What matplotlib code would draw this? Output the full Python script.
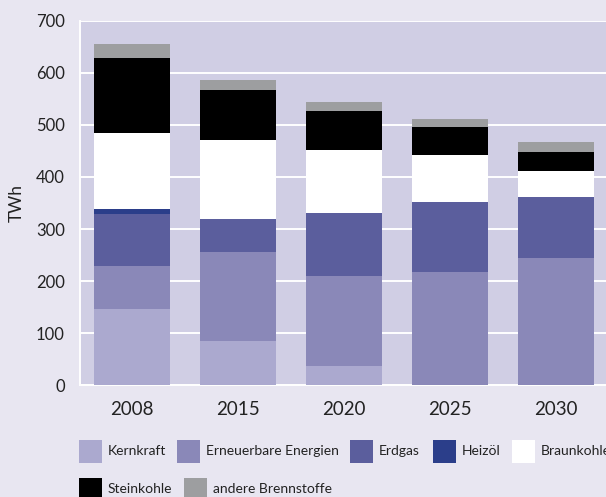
import matplotlib
matplotlib.use("Agg")
import matplotlib.pyplot as plt
from matplotlib.patches import Rectangle
import numpy as np

plt.rcParams['font.family'] = ['Lato', 'DejaVu Sans']

years = ["2008", "2015", "2020", "2025", "2030"]
sources = ["Kernkraft", "Erneuerbare Energien", "Erdgas", "Heizöl",
           "Braunkohle", "Steinkohle", "andere Brennstoffe"]

kernkraft = [146, 85, 37, 0, 0]
erneuerbare = [84, 170, 173, 217, 245]
erdgas = [98, 65, 121, 134, 117]
heizoel = [11, 0, 0, 0, 0]
braunkohle = [145, 151, 121, 92, 50]
steinkohle = [144, 95, 74, 52, 36]
andere = [27, 21, 17, 17, 19]

series = [kernkraft, erneuerbare, erdgas, heizoel, braunkohle, steinkohle, andere]
colors = ["#aba9cf", "#8a88b8", "#5b5e9d", "#2b3e8a", "#ffffff", "#000000", "#9d9ea0"]

yticks = [0, 100, 200, 300, 400, 500, 600, 700]

W, H = 606, 497
fig = plt.figure(figsize=(W / 100, H / 100), dpi=100, facecolor="#e8e6f1")
ax = fig.add_axes([80 / W, 1 - 385.3 / H, 1 - 80 / W, (385.3 - 20.7) / H])
ax.set_facecolor("#d0cee4")

x = np.arange(len(years))
bottom = np.zeros(len(years))
for vals, col in zip(series, colors):
    vals = np.array(vals, dtype=float)
    ax.bar(x, vals, width=0.717, bottom=bottom, color=col, linewidth=0, zorder=3)
    bottom += vals

ax.set_xlim(-0.49, 4.47)
ax.set_ylim(0, 700)
ax.set_yticks(yticks)
ax.set_xticks(x)
ax.set_xticklabels(years)
ax.yaxis.grid(True, color="white", linewidth=1.4, zorder=1)
ax.set_axisbelow(True)
for s in ["top", "right"]:
    ax.spines[s].set_visible(False)
for s in ["left", "bottom"]:
    ax.spines[s].set_color("white")
    ax.spines[s].set_linewidth(1.4)
ax.tick_params(axis="both", length=0, colors="#222222")
ax.tick_params(axis="y", labelsize=12, pad=11)
ax.tick_params(axis="x", labelsize=13.5, pad=11)
ax.set_ylabel("TWh", fontsize=12.5, color="#222222", labelpad=8)

# legend drawn in figure pixel coordinates
leg_rows = [[0, 1, 2, 3, 4], [5, 6]]
leg_x = [[79, 177, 350, 433, 512], [79, 184]]
leg_y = [451, 489]
box = 23
for row, xs, yc in zip(leg_rows, leg_x, leg_y):
    for i, px in zip(row, xs):
        fig.add_artist(Rectangle((px / W, 1 - (yc + box / 2) / H), box / W, box / H,
                                 transform=fig.transFigure, facecolor=colors[i],
                                 edgecolor="none"))
        fig.text((px + box + 6) / W, 1 - yc / H, sources[i], fontsize=10,
                 color="#222222", va="center", ha="left")

fig.savefig("out.png", dpi=100, facecolor=fig.get_facecolor())
